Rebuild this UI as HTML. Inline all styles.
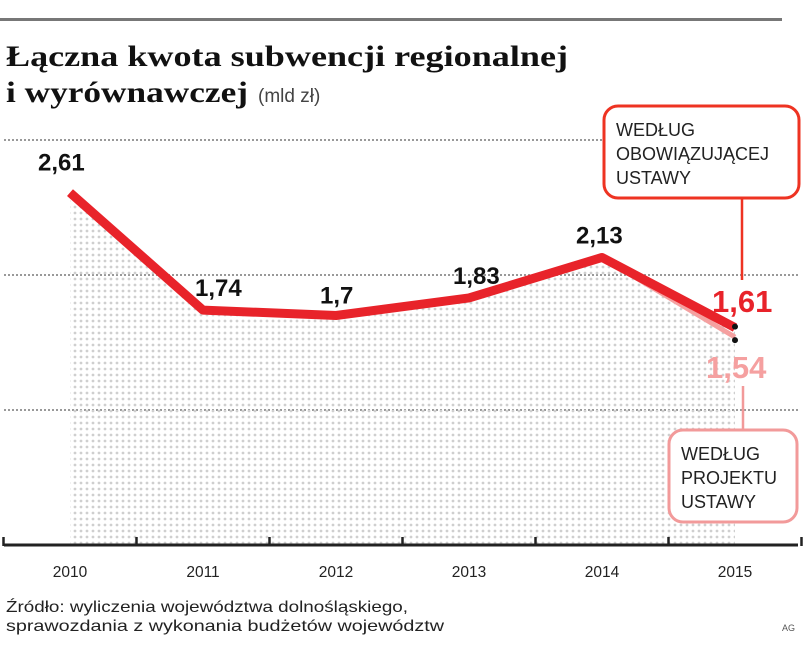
<!DOCTYPE html>
<html><head><meta charset="utf-8"><style>
body{margin:0;background:#fff;}
svg{display:block;font-family:"Liberation Sans",sans-serif;}
</style></head><body>
<svg width="805" height="650" viewBox="0 0 805 650">
<defs>
<pattern id="dots" width="6" height="6" patternUnits="userSpaceOnUse"><circle cx="3" cy="3" r="1.4" fill="#cfcfcf"/></pattern>
</defs>
<rect x="0" y="18" width="782" height="3" fill="#777"/>
<text x="6" y="66" font-family="Liberation Serif,serif" font-weight="bold" font-size="30" fill="#111" textLength="562" lengthAdjust="spacingAndGlyphs">Łączna kwota subwencji regionalnej</text>
<text x="6" y="102" font-family="Liberation Serif,serif" font-weight="bold" font-size="30" fill="#111" textLength="242" lengthAdjust="spacingAndGlyphs">i wyrównawczej</text>
<text x="258" y="102" font-size="19" fill="#444">(mld zł)</text>
<g id="grid"></g>
<g id="area"></g>
<g id="lines"></g>
<g id="labels"></g>
<g id="axis"></g>
<rect x="604" y="106" width="195" height="92" rx="14" fill="#fff" stroke="#e32" stroke-width="3"/>
<text font-size="18" fill="#222"><tspan x="616" y="136">WEDŁUG</tspan><tspan x="616" y="160">OBOWIĄZUJĄCEJ</tspan><tspan x="616" y="184">USTAWY</tspan></text>
<line x1="742" y1="198" x2="742" y2="280" stroke="#e32" stroke-width="2.5"/>
<rect x="669" y="430" width="128" height="92" rx="14" fill="#fff" stroke="#f29a9a" stroke-width="3"/>
<text font-size="18" fill="#222"><tspan x="681" y="460">WEDŁUG</tspan><tspan x="681" y="484">PROJEKTU</tspan><tspan x="681" y="508">USTAWY</tspan></text>
<line x1="743" y1="386" x2="743" y2="430" stroke="#f29a9a" stroke-width="2.5"/>
<text x="6" y="612" font-size="16" fill="#222" textLength="402" lengthAdjust="spacingAndGlyphs">Źródło: wyliczenia województwa dolnośląskiego,</text>
<text x="6" y="631" font-size="16" fill="#222" textLength="438" lengthAdjust="spacingAndGlyphs">sprawozdania z wykonania budżetów województw</text>
<text x="782" y="631" font-size="9" fill="#555">AG</text>
</svg>
<script>
const years=["2010","2011","2012","2013","2014","2015"];
const currentLaw=[2.61,1.74,1.7,1.83,2.13,1.61];
const draftLaw=[2.61,1.74,1.7,1.83,2.13,1.54];
const valueLabels=["2,61","1,74","1,7","1,83","2,13"];
const gridValues=[1,2,3];
const ns="http://www.w3.org/2000/svg";
function x(i){return 70+i*133;}
function y(v){return 545-135*v;}
function mk(tag,attrs,parent){const e=document.createElementNS(ns,tag);for(const k in attrs)e.setAttribute(k,attrs[k]);document.getElementById(parent).appendChild(e);return e;}
gridValues.forEach(v=>{const l=mk('line',{x1:4,x2:800,y1:y(v),y2:y(v),stroke:'#999','stroke-width':2,'stroke-dasharray':'2 2'},'grid');

});
let d='M'+x(0)+','+y(currentLaw[0]);currentLaw.forEach((v,i)=>{d+=' L'+x(i)+','+y(v);});d+=' L'+x(years.length-1)+',545 L'+x(0)+',545 Z';
const ar=mk('path',{d:d,fill:'url(#dots)'},'area');


const pts=a=>a.map((v,i)=>x(i)+','+y(v)).join(' ');
const l2=mk('polyline',{points:pts(draftLaw),fill:'none',stroke:'#f5a0a0','stroke-width':5,'stroke-linejoin':'round'},'lines');


const l1=mk('polyline',{points:pts(currentLaw),fill:'none',stroke:'#e8232a','stroke-width':9,'stroke-linejoin':'round'},'lines');


const last=years.length-1;
[currentLaw[last],draftLaw[last]].forEach((v,k)=>{const c=mk('circle',{cx:x(last),cy:y(v)+(k?3:-1),r:3,fill:'#111'},'lines');

});
const offs=[[-32,-22],[-8,-14],[-16,-12],[-16,-14],[-26,-14]];
valueLabels.forEach((t,i)=>{const e=mk('text',{x:x(i)+offs[i][0],y:y(currentLaw[i])+offs[i][1],'font-size':24,'font-weight':'bold',fill:'#111'},'labels');e.textContent=t;

});
const a=mk('text',{x:712,y:312,'font-size':31,'font-weight':'bold',fill:'#e8232a'},'labels');a.textContent=String(currentLaw[last]).replace('.',',');


const b=mk('text',{x:706,y:378,'font-size':31,'font-weight':'bold',fill:'#f5a0a0'},'labels');b.textContent=String(draftLaw[last]).replace('.',',');


const ax=mk('line',{x1:4,x2:798,y1:545,y2:545,stroke:'#222','stroke-width':3},'axis');


for(let i=0;i<=years.length;i++){const tx=x(i)-66.5;const t=mk('line',{x1:tx,x2:tx,y1:537,y2:546,stroke:'#222','stroke-width':2.5},'axis');

}
years.forEach((yr,i)=>{const e=mk('text',{x:x(i),y:577,'font-size':15.5,fill:'#222','text-anchor':'middle'},'axis');e.textContent=yr;

});
</script>
</body></html>
